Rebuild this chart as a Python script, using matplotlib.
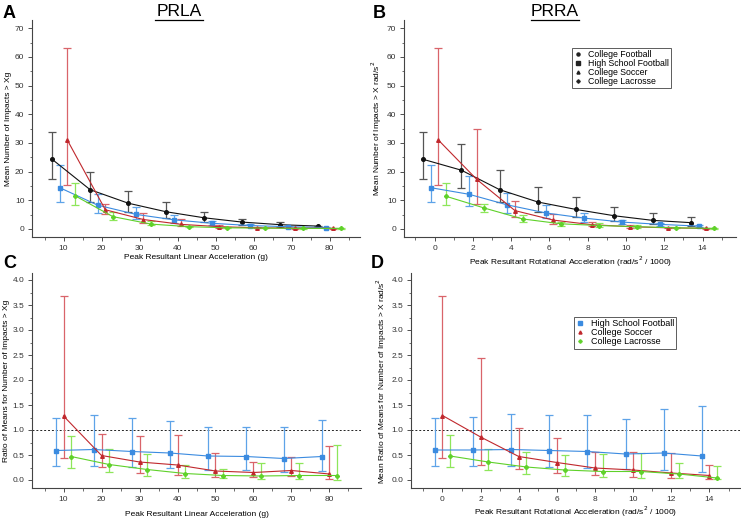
import numpy as np
import matplotlib
matplotlib.use("Agg")
import matplotlib.pyplot as plt
from matplotlib.ticker import MultipleLocator

plt.rcParams['font.family'] = ['Liberation Sans', 'DejaVu Sans']

# ---- Panel A: PRLA, mean number of impacts > Xg
a_cf_x = [7, 17, 27, 37, 47, 57, 67, 77]
a_cf_y = [24.3, 13.7, 9.0, 6.0, 3.9, 2.4, 1.5, 1.0]
a_cf_lo = [17.3, 9.3, 5.8, 3.8, 2.5, 1.5, 0.8, 0.7]
a_cf_hi = [33.7, 20.0, 13.3, 9.3, 5.8, 3.6, 2.3, 1.2]

a_hs_x = [9, 19, 29, 39, 49, 59, 69, 79]
a_hs_y = [14.4, 8.3, 5.1, 3.2, 2.0, 1.2, 0.8, 0.5]
a_hs_lo = [9.3, 5.6, 3.5, 2.2, 1.3, 0.8, 0.5, 0.3]
a_hs_hi = [22.2, 12.1, 7.7, 4.9, 2.8, 1.8, 1.1, 0.8]

a_cs_x = [11, 21, 31, 41, 51, 61, 71, 81]
a_cs_y = [31.0, 6.7, 3.3, 1.6, 0.8, 0.4, 0.3, 0.2]
a_cs_lo = [15.3, 5.2, 2.2, 1.0, 0.4, 0.2, 0.1, 0.1]
a_cs_hi = [63.0, 8.6, 5.4, 3.5, 1.3, 0.6, 0.5, 0.3]

a_cl_x = [13, 23, 33, 43, 53, 63, 73, 83]
a_cl_y = [11.6, 4.3, 1.7, 0.8, 0.4, 0.3, 0.2, 0.2]
a_cl_lo = [8.2, 3.0, 1.3, 0.6, 0.3, 0.2, 0.1, 0.1]
a_cl_hi = [15.9, 6.0, 2.7, 1.1, 0.6, 0.4, 0.3, 0.3]

# ---- Panel B: PRRA, mean number of impacts > X rad/s^2 (x in thousands)
b_cf_x = [-0.6, 1.4, 3.4, 5.4, 7.4, 9.4, 11.4, 13.4]
b_cf_y = [24.3, 20.5, 13.7, 9.4, 6.8, 4.6, 3.0, 2.2]
b_cf_lo = [17.3, 14.2, 9.3, 5.8, 4.2, 2.8, 1.7, 1.1]
b_cf_hi = [33.7, 29.5, 20.4, 14.7, 11.0, 7.8, 5.5, 4.3]

b_hs_x = [-0.2, 1.8, 3.8, 5.8, 7.8, 9.8, 11.8, 13.8]
b_hs_y = [14.4, 12.1, 8.4, 5.6, 3.8, 2.4, 1.6, 1.0]
b_hs_lo = [9.3, 7.9, 5.5, 3.9, 2.6, 1.7, 1.1, 0.7]
b_hs_hi = [22.2, 18.5, 12.6, 8.2, 5.5, 3.3, 2.2, 1.5]

b_cs_x = [0.2, 2.2, 4.2, 6.2, 8.2, 10.2, 12.2, 14.2]
b_cs_y = [31.0, 17.3, 6.4, 3.1, 1.5, 0.8, 0.4, 0.2]
b_cs_lo = [15.3, 8.8, 4.2, 1.9, 1.0, 0.5, 0.2, 0.1]
b_cs_hi = [63.0, 34.8, 9.9, 5.2, 2.3, 1.3, 0.7, 0.3]

b_cl_x = [0.6, 2.6, 4.6, 6.6, 8.6, 10.6, 12.6, 14.6]
b_cl_y = [11.4, 7.3, 3.5, 1.8, 1.2, 0.8, 0.4, 0.2]
b_cl_lo = [8.2, 6.0, 2.3, 1.2, 0.8, 0.5, 0.3, 0.1]
b_cl_hi = [15.9, 8.8, 5.0, 2.6, 2.0, 1.3, 0.6, 0.3]

# ---- Panel C: ratio of means vs college football, linear
c_hs_x = [8, 18, 28, 38, 48, 58, 68, 78]
c_hs_y = [0.59, 0.61, 0.57, 0.54, 0.48, 0.47, 0.43, 0.47]
c_hs_lo = [0.28, 0.28, 0.26, 0.24, 0.21, 0.20, 0.17, 0.18]
c_hs_hi = [1.24, 1.31, 1.25, 1.18, 1.07, 1.06, 1.06, 1.20]

c_cs_x = [10, 20, 30, 40, 50, 60, 70, 80]
c_cs_y = [1.28, 0.49, 0.36, 0.30, 0.18, 0.15, 0.19, 0.12]
c_cs_lo = [0.45, 0.26, 0.15, 0.10, 0.07, 0.07, 0.08, 0.02]
c_cs_hi = [3.68, 0.92, 0.88, 0.90, 0.55, 0.37, 0.46, 0.69]

c_cl_x = [12, 22, 32, 42, 52, 62, 72, 82]
c_cl_y = [0.47, 0.31, 0.21, 0.13, 0.09, 0.08, 0.09, 0.09]
c_cl_lo = [0.25, 0.16, 0.08, 0.05, 0.04, 0.02, 0.02, 0.01]
c_cl_hi = [0.88, 0.62, 0.53, 0.30, 0.22, 0.34, 0.34, 0.70]

# ---- Panel D: ratio of means vs college football, rotational
d_hs_x = [-0.4, 1.6, 3.6, 5.6, 7.6, 9.6, 11.6, 13.6]
d_hs_y = [0.60, 0.60, 0.61, 0.59, 0.57, 0.52, 0.54, 0.48]
d_hs_lo = [0.28, 0.28, 0.28, 0.26, 0.25, 0.22, 0.20, 0.16]
d_hs_hi = [1.24, 1.26, 1.32, 1.30, 1.30, 1.22, 1.42, 1.48]

d_cs_x = [0, 2, 4, 6, 8, 10, 12, 14]
d_cs_y = [1.29, 0.86, 0.47, 0.35, 0.24, 0.20, 0.14, 0.09]
d_cs_lo = [0.45, 0.30, 0.22, 0.15, 0.10, 0.07, 0.04, 0.03]
d_cs_hi = [3.68, 2.45, 1.05, 0.85, 0.57, 0.57, 0.54, 0.30]

d_cl_x = [0.4, 2.4, 4.4, 6.4, 8.4, 10.4, 12.4, 14.4]
d_cl_y = [0.48, 0.36, 0.26, 0.20, 0.17, 0.17, 0.12, 0.04]
d_cl_lo = [0.26, 0.20, 0.12, 0.08, 0.06, 0.04, 0.04, 0.02]
d_cl_hi = [0.90, 0.62, 0.56, 0.50, 0.53, 0.55, 0.34, 0.28]

# styles: (line colour, errorbar colour, marker)
sty = {
    "College Football": ("#111111", "#555555", "o"),
    "High School Football": ("#3b8be0", "#5ea3e8", "s"),
    "College Soccer": ("#c0282d", "#d9646a", "^"),
    "College Lacrosse": ("#5fd12a", "#8ee65a", "P"),
}

W, H = 741, 520
fig = plt.figure(figsize=(W / 100, H / 100), dpi=100)


def make_ax(l, r, t, b):
    return fig.add_axes([l / W, 1 - b / H, (r - l) / W, (b - t) / H])


def series(ax, name, x, y, lo, hi):
    lc, ec, mk = sty[name]
    y = np.array(y)
    err = [y - np.array(lo), np.array(hi) - y]
    ax.errorbar(x, y, yerr=err, fmt="none", ecolor=ec, elinewidth=0.9,
                capsize=2.8, capthick=0.9, zorder=2)
    ax.plot(x, y, color=lc, lw=0.8, marker=mk, ms=2.6, mec=lc, mfc=lc,
            label=name, zorder=3)


def style(ax, xlabel, ylabel):
    for s in ["top", "right"]:
        ax.spines[s].set_visible(False)
    for s in ["left", "bottom"]:
        ax.spines[s].set_color("#444444")
        ax.spines[s].set_linewidth(0.8)
    ax.tick_params(labelsize=6, length=3, width=0.6, colors="#333333", pad=2.5)
    ax.tick_params(which="minor", length=1.8, width=0.5, colors="#333333")
    ax.set_xlabel(xlabel, fontsize=6, labelpad=2)
    ax.set_ylabel(ylabel, fontsize=6, labelpad=2)


axA = make_ax(32, 360, 20, 237)
series(axA, "College Football", a_cf_x, a_cf_y, a_cf_lo, a_cf_hi)
series(axA, "High School Football", a_hs_x, a_hs_y, a_hs_lo, a_hs_hi)
series(axA, "College Soccer", a_cs_x, a_cs_y, a_cs_lo, a_cs_hi)
series(axA, "College Lacrosse", a_cl_x, a_cl_y, a_cl_lo, a_cl_hi)
axA.set_xlim(1.7, 88)
axA.set_ylim(-2.8, 72.9)
axA.xaxis.set_major_locator(MultipleLocator(10))
axA.xaxis.set_minor_locator(MultipleLocator(5))
axA.yaxis.set_major_locator(MultipleLocator(10))
axA.yaxis.set_minor_locator(MultipleLocator(5))
style(axA, "Peak Resultant Linear Acceleration (g)", "Mean Number of Impacts > Xg")

axB = make_ax(404, 736, 20, 237)
series(axB, "College Football", b_cf_x, b_cf_y, b_cf_lo, b_cf_hi)
series(axB, "High School Football", b_hs_x, b_hs_y, b_hs_lo, b_hs_hi)
series(axB, "College Soccer", b_cs_x, b_cs_y, b_cs_lo, b_cs_hi)
series(axB, "College Lacrosse", b_cl_x, b_cl_y, b_cl_lo, b_cl_hi)
axB.set_xlim(-1.6, 15.75)
axB.set_ylim(-2.8, 72.9)
axB.xaxis.set_major_locator(MultipleLocator(2))
axB.xaxis.set_minor_locator(MultipleLocator(1))
axB.yaxis.set_major_locator(MultipleLocator(10))
axB.yaxis.set_minor_locator(MultipleLocator(5))
style(axB, "Peak Resultant Rotational Acceleration (rad/s$^2$ / 1000)",
      "Mean Number of Impacts > X rad/s$^2$")
hB = [plt.Line2D([], [], ls="none", marker=sty[n][2], color="#222222", ms=2.2)
      for n in sty]
legB = axB.legend(hB, list(sty.keys()), loc="upper left",
                  bbox_to_anchor=(0.506, 0.872), fontsize=6.3, frameon=True,
                  fancybox=False, edgecolor="#333333", handlelength=0.8,
                  handletextpad=0.8, borderpad=0.25, labelspacing=0.0,
                  borderaxespad=0)
legB.get_frame().set_linewidth(0.7)

axC = make_ax(32, 361, 273, 488)
series(axC, "High School Football", c_hs_x, c_hs_y, c_hs_lo, c_hs_hi)
series(axC, "College Soccer", c_cs_x, c_cs_y, c_cs_lo, c_cs_hi)
series(axC, "College Lacrosse", c_cl_x, c_cl_y, c_cl_lo, c_cl_hi)
axC.axhline(1.0, color="#222222", ls=(0, (2, 2)), lw=0.7, zorder=1)
axC.set_xlim(1.7, 88.3)
axC.set_ylim(-0.16, 4.14)
axC.xaxis.set_major_locator(MultipleLocator(10))
axC.xaxis.set_minor_locator(MultipleLocator(5))
axC.yaxis.set_major_locator(MultipleLocator(0.5))
axC.yaxis.set_minor_locator(MultipleLocator(0.25))
axC.yaxis.set_major_formatter(plt.FormatStrFormatter("%.1f"))
style(axC, "Peak Resultant Linear Acceleration (g)",
      "Ratio of Means for Number of Impacts > Xg")
axC.xaxis.labelpad = 6

axD = make_ax(411, 740, 273, 488)
series(axD, "High School Football", d_hs_x, d_hs_y, d_hs_lo, d_hs_hi)
series(axD, "College Soccer", d_cs_x, d_cs_y, d_cs_lo, d_cs_hi)
series(axD, "College Lacrosse", d_cl_x, d_cl_y, d_cl_lo, d_cl_hi)
axD.axhline(1.0, color="#222222", ls=(0, (2, 2)), lw=0.7, zorder=1)
axD.set_xlim(-1.65, 15.6)
axD.set_ylim(-0.16, 4.14)
axD.xaxis.set_major_locator(MultipleLocator(2))
axD.xaxis.set_minor_locator(MultipleLocator(1))
axD.yaxis.set_major_locator(MultipleLocator(0.5))
axD.yaxis.set_minor_locator(MultipleLocator(0.25))
axD.yaxis.set_major_formatter(plt.FormatStrFormatter("%.1f"))
style(axD, "Peak Resultant Rotational Acceleration (rad/s$^2$ / 1000)",
      "Mean Ratio of Means for Number of Impacts > X rad/s$^2$")
axD.xaxis.labelpad = 1.5
namesD = ["High School Football", "College Soccer", "College Lacrosse"]
hD = [plt.Line2D([], [], ls="none", marker=sty[n][2], color=sty[n][0], ms=2.2)
      for n in namesD]
legD = axD.legend(hD, namesD, loc="upper left", bbox_to_anchor=(0.495, 0.795),
                  fontsize=6.5, frameon=True, fancybox=False,
                  edgecolor="#333333", handlelength=0.8, handletextpad=0.8,
                  borderpad=0.25, labelspacing=0.0, borderaxespad=0)
legD.get_frame().set_linewidth(0.7)

# panel letters and titles
for lbl, px, py in [("A", 3, 14), ("B", 373, 14), ("C", 3, 264), ("D", 371, 264)]:
    fig.text(px / W, 1 - py / H, lbl, fontsize=13, fontweight="bold",
             va="center", ha="left")
for ttl, px in [("PRLA", 179), ("PRRA", 555)]:
    t = fig.text(px / W, 1 - 11 / H, ttl, fontsize=12.5, va="center",
                 ha="center")
    fig.add_artist(plt.Line2D([(px - 24) / W, (px + 24) / W],
                              [1 - 20 / H, 1 - 20 / H], color="black", lw=0.9))

fig.savefig("out.png", dpi=100)
